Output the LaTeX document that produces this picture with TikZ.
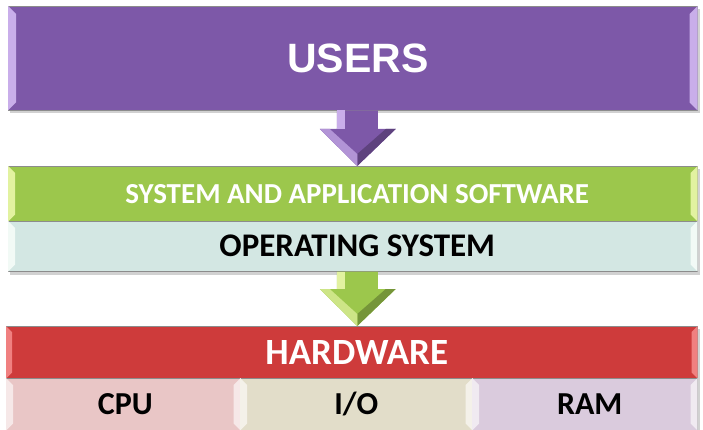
\documentclass[tikz,border=0pt]{standalone}
\usepackage{fontspec}
\setmainfont{Carlito}
\newfontfamily\arialf{Liberation Sans}
\usetikzlibrary{calc}
\definecolor{upurple}{HTML}{7D58A8}
\definecolor{upurpleL}{HTML}{C9AEEA}
\definecolor{ugreen}{HTML}{9CC74C}
\definecolor{ugreenL}{HTML}{E2F2A0}
\definecolor{uteal}{HTML}{D3E7E3}
\definecolor{utealL}{HTML}{F2FAF6}
\definecolor{ured}{HTML}{CE3B3B}
\definecolor{uredL}{HTML}{F08080}
\definecolor{upink}{HTML}{E9C6C6}
\definecolor{ubeige}{HTML}{E2DDC9}
\definecolor{ulilac}{HTML}{DACBDD}
\tikzset{
  layer/.style={draw=black!45, line width=0.5pt, minimum height=#1, inner sep=0pt, anchor=north west},
  wtext/.style={text=white, font=\bfseries},
  btext/.style={text=black, font=\bfseries},
}
\newcommand{\bevel}[3]{% node, color, depth
  \fill[#2] (#1.north west) -- ($(#1.north west)+(#3,#3)$) -- ($(#1.south west)+(#3,-#3)$) -- (#1.south west) -- cycle;
  \fill[#2] (#1.north east) -- ($(#1.north east)+(-#3,#3)$) -- ($(#1.south east)+(-#3,-#3)$) -- (#1.south east) -- cycle;
}
\newcommand{\blockarrow}[4]{% from node, to node, fill, light
  \path let \p1=(#1.south), \p2=(#2.north) in
    coordinate (s1) at (\x1-16pt,\y1) coordinate (s2) at (\x1+25pt,\y1)
    coordinate (s3) at (\x1+25pt,\y2+37pt) coordinate (h1) at (\x1+43pt,\y2+37pt)
    coordinate (tip) at (\x1+4.5pt,\y2) coordinate (h2) at (\x1-33pt,\y2+37pt)
    coordinate (s4) at (\x1-16pt,\y2+37pt);
  \fill[#3] (s1) -- (s2) -- (s3) -- (h1) -- (tip) -- (h2) -- (s4) -- cycle;
  \fill[#4] (s1) -- ($(s1)+(8,0)$) -- ($(s4)+(8,0)$) -- (s4) -- cycle;
  \fill[#3!75!black] (h1) -- (tip) -- ($(tip)+(0,-12)$) -- ($(h1)+(-10,0)$) -- cycle;
  \fill[#4!70!#3] (h2) -- (tip) -- ($(tip)+(0,-12)$) -- ($(h2)+(10,0)$) -- cycle;
}
\begin{document}
\begin{tikzpicture}[x=1pt,y=-1pt]
\useasboundingbox (0,0) rectangle (703,430);
% shadows
\fill[black!18] (10,9) rectangle (700,113);
\fill[black!18] (10,169) rectangle (700,275);
\fill[black!18] (8,329) rectangle (700,432);
% USERS
\node[layer=104pt, minimum width=689pt, fill=upurple] (users) at (8,6) {};
\bevel{users}{upurpleL}{8}
\node[wtext, font=\arialf\bfseries\fontsize{41}{41}\selectfont, xshift=5pt] (ut) at (users.center) {USERS};
% software
\node[layer=55pt, minimum width=689pt, fill=ugreen] (sw) at (8,166) {};
\bevel{sw}{ugreenL}{7}
\node[wtext, font=\bfseries\fontsize{29}{29}\selectfont, xshift=4.5pt] (swt) at (sw.center) {SYSTEM AND APPLICATION SOFTWARE};
% OS
\node[layer=50pt, minimum width=689pt, fill=uteal] (os) at (8,221) {};
\bevel{os}{utealL}{7}
\node[btext, font=\bfseries\fontsize{33}{33}\selectfont, xshift=4.5pt] (ost) at (os.center) {OPERATING SYSTEM};
% hardware
\node[layer=52pt, minimum width=691pt, fill=ured] (hw) at (6,326) {};
\bevel{hw}{uredL}{6}
\node[wtext, font=\bfseries\fontsize{37}{37}\selectfont, xshift=5pt] (hwt) at (hw.center) {HARDWARE};
% components
\node[layer=52pt, minimum width=234pt, fill=upink] (cpu) at (6,378) {};
\node[layer=52pt, minimum width=232pt, fill=ubeige] (io) at (240,378) {};
\node[layer=52pt, minimum width=225pt, fill=ulilac] (ram) at (472,378) {};
\bevel{cpu}{white!60!upink}{7}
\bevel{io}{white!60!ubeige}{7}
\bevel{ram}{white!60!ulilac}{7}
\node[btext, font=\bfseries\fontsize{32}{32}\selectfont, xshift=2pt] (cput) at (cpu.center) {CPU};
\node[btext, font=\bfseries\fontsize{32}{32}\selectfont] (iot) at (io.center) {I/O};
\node[btext, font=\bfseries\fontsize{32}{32}\selectfont, xshift=5pt] (ramt) at (ram.center) {RAM};
% arrows
\blockarrow{users}{sw}{upurple}{upurpleL}
\blockarrow{os}{hw}{ugreen}{ugreenL}
\end{tikzpicture}
\end{document}
